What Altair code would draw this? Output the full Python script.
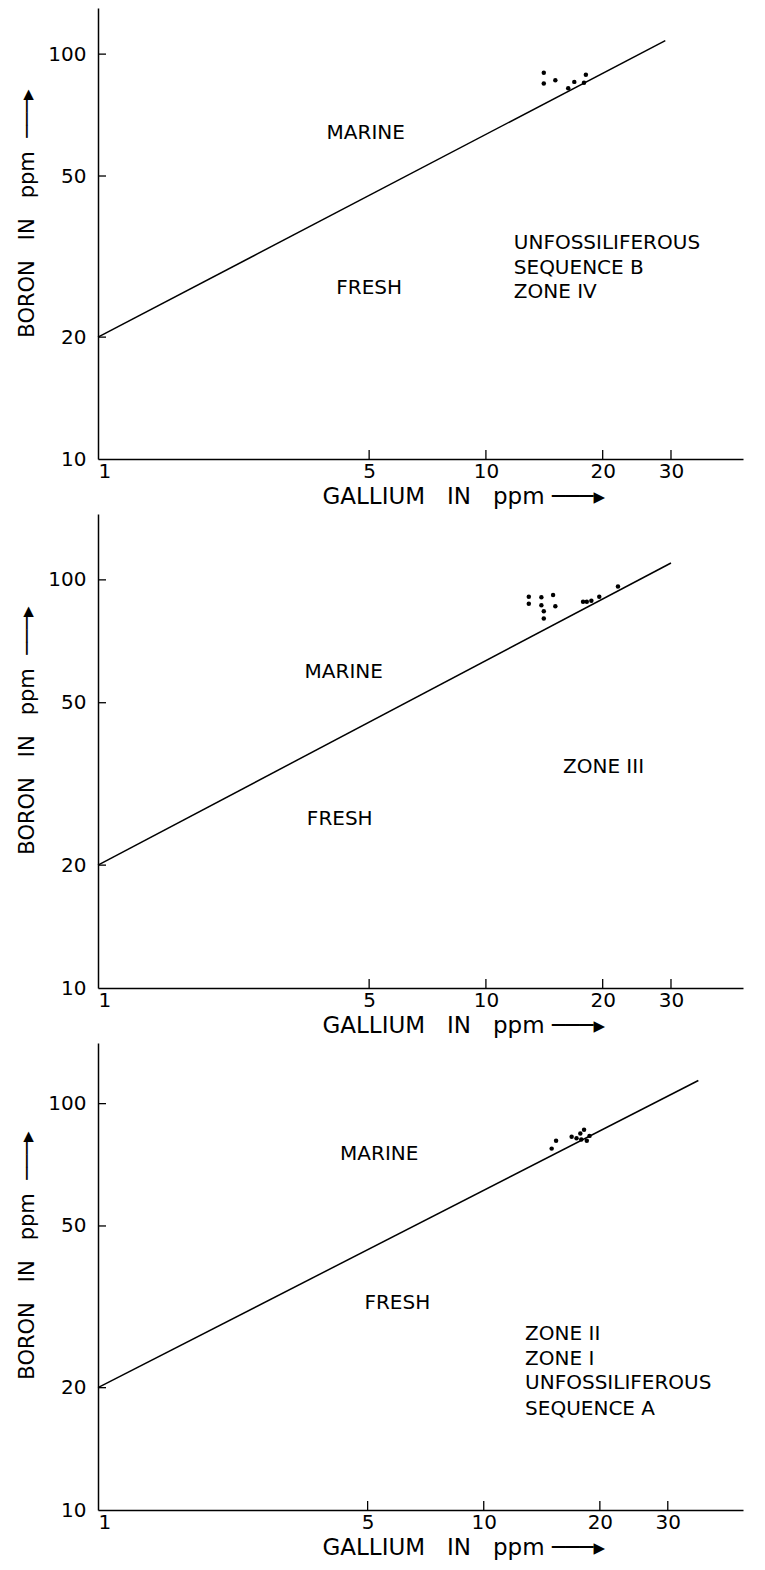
import altair as alt
import pandas as pd

FONT = "DejaVu Sans"
SP = "\u00a0"

# ---- data (gallium ppm, boron ppm) ----
p1_ga = [14.1, 14.1, 15.1, 16.3, 16.9, 17.9, 18.1]
p1_b = [90.0, 84.6, 86.2, 82.4, 85.4, 85.0, 88.9]
p1_line_ga = [1, 29]
p1_line_b = [20, 108]
p1_text = ["MARINE", "FRESH", "UNFOSSILIFEROUS", "SEQUENCE B", "ZONE IV"]
p1_text_ga = [4.9, 5.0, 11.8, 11.8, 11.8]
p1_text_b = [64, 26.4, 34.1, 29.7, 25.9]
p1_text_align = ["center", "center", "left", "left", "left"]

p2_ga = [12.9, 12.9, 13.9, 13.9, 14.1, 14.1, 14.9, 15.1, 17.8, 18.2, 18.7, 19.6, 21.9]
p2_b = [90.9, 87.4, 90.6, 86.7, 83.8, 80.4, 91.8, 86.2, 88.4, 88.4, 88.9, 90.9, 96.3]
p2_line_ga = [1, 30]
p2_line_b = [20, 110]
p2_text = ["MARINE", "FRESH", "ZONE III"]
p2_text_ga = [4.3, 4.2, 20.1]
p2_text_b = [59.5, 25.9, 34.8]
p2_text_align = ["center", "center", "center"]

p3_ga = [15.0, 15.4, 16.9, 17.4, 17.8, 17.9, 18.2, 18.5, 18.8]
p3_b = [77.5, 81.0, 82.9, 82.2, 84.4, 81.6, 86.2, 81.0, 83.3]
p3_line_ga = [1, 36]
p3_line_b = [20, 114]
p3_text = ["MARINE", "FRESH", "ZONE II", "ZONE I", "UNFOSSILIFEROUS", "SEQUENCE A"]
p3_text_ga = [5.36, 5.97, 12.8, 12.8, 12.8, 12.8]
p3_text_b = [75.2, 32.4, 27.1, 23.5, 20.5, 17.7]
p3_text_align = ["center", "center", "left", "left", "left", "left"]

x_ticks = [1, 5, 10, 20, 30]
y_ticks = [10, 20, 50, 100]
x_inner_ticks = [5, 10, 20, 30]
y_inner_ticks = [20, 50, 100]

ARROW = "\u2500\u2500\u2500\u25b8"
X_TITLE = "GALLIUM" + SP * 3 + "IN" + SP * 3 + "ppm" + SP + ARROW
Y_TITLE = "BORON" + SP * 3 + "IN" + SP * 3 + "ppm" + SP * 2 + ARROW

W = 645


def panel(ga, b, lga, lb, txt, tga, tb, talign, h, xmax, ymax):
    xs = alt.Scale(type="log", domain=[1, xmax], nice=False)
    ys = alt.Scale(type="log", domain=[10, ymax], nice=False)
    xax = alt.Axis(values=x_ticks, title=X_TITLE, format="d",
                   titleAlign="left", titleX=224, titleFontSize=23)
    yax = alt.Axis(values=y_ticks, title=Y_TITLE, format="d",
                   titleY=round(0.455 * h))

    pts = alt.Chart(pd.DataFrame({"ga": ga, "b": b})).mark_circle(
        size=20, color="black", opacity=1
    ).encode(
        x=alt.X("ga:Q", scale=xs, axis=xax),
        y=alt.Y("b:Q", scale=ys, axis=yax),
    )
    line = alt.Chart(pd.DataFrame({"ga": lga, "b": lb})).mark_line(
        color="black", strokeWidth=1.5
    ).encode(x=alt.X("ga:Q", scale=xs), y=alt.Y("b:Q", scale=ys))

    tdf = pd.DataFrame({"t": txt, "ga": tga, "b": tb, "al": talign})
    layers = [line, pts]
    for al in ["center", "left"]:
        sub = tdf[tdf["al"] == al]
        if len(sub):
            layers.append(
                alt.Chart(sub).mark_text(
                    align=al, baseline="middle", font=FONT, fontSize=20, color="black"
                ).encode(
                    x=alt.X("ga:Q", scale=xs),
                    y=alt.Y("b:Q", scale=ys),
                    text="t:N",
                )
            )
    yt = alt.Chart(pd.DataFrame({"b": y_inner_ticks})).mark_rule(
        color="black", strokeWidth=1.3
    ).encode(y=alt.Y("b:Q", scale=ys), x=alt.value(0), x2=alt.value(8))
    xt = alt.Chart(pd.DataFrame({"ga": x_inner_ticks})).mark_rule(
        color="black", strokeWidth=1.3
    ).encode(x=alt.X("ga:Q", scale=xs), y=alt.value(h), y2=alt.value(h - 9))
    layers += [yt, xt]
    return alt.layer(*layers).properties(width=W, height=h)


c1 = panel(p1_ga, p1_b, p1_line_ga, p1_line_b, p1_text, p1_text_ga, p1_text_b,
           p1_text_align, 451, 46, 130)
c2 = panel(p2_ga, p2_b, p2_line_ga, p2_line_b, p2_text, p2_text_ga, p2_text_b,
           p2_text_align, 474, 46, 145)
c3 = panel(p3_ga, p3_b, p3_line_ga, p3_line_b, p3_text, p3_text_ga, p3_text_b,
           p3_text_align, 467, 47, 141)

chart = alt.vconcat(c1, c2, c3, spacing=6).properties(
    padding={"left": 16, "top": 8, "right": 5, "bottom": 2},
    background="white",
).configure_view(stroke=None).configure_axis(
    domainColor="black",
    domainWidth=1.5,
    ticks=False,
    grid=False,
    labelColor="black",
    labelFont=FONT,
    labelFontSize=20,
    titleColor="black",
    titleFont=FONT,
    titleFontSize=21,
    titleFontWeight="normal",
).configure_axisY(titlePadding=10, labelPadding=12).configure_axisX(
    titlePadding=4, labelPadding=2
)

chart.save("out.html", embed_options={"renderer": "svg", "actions": False})
